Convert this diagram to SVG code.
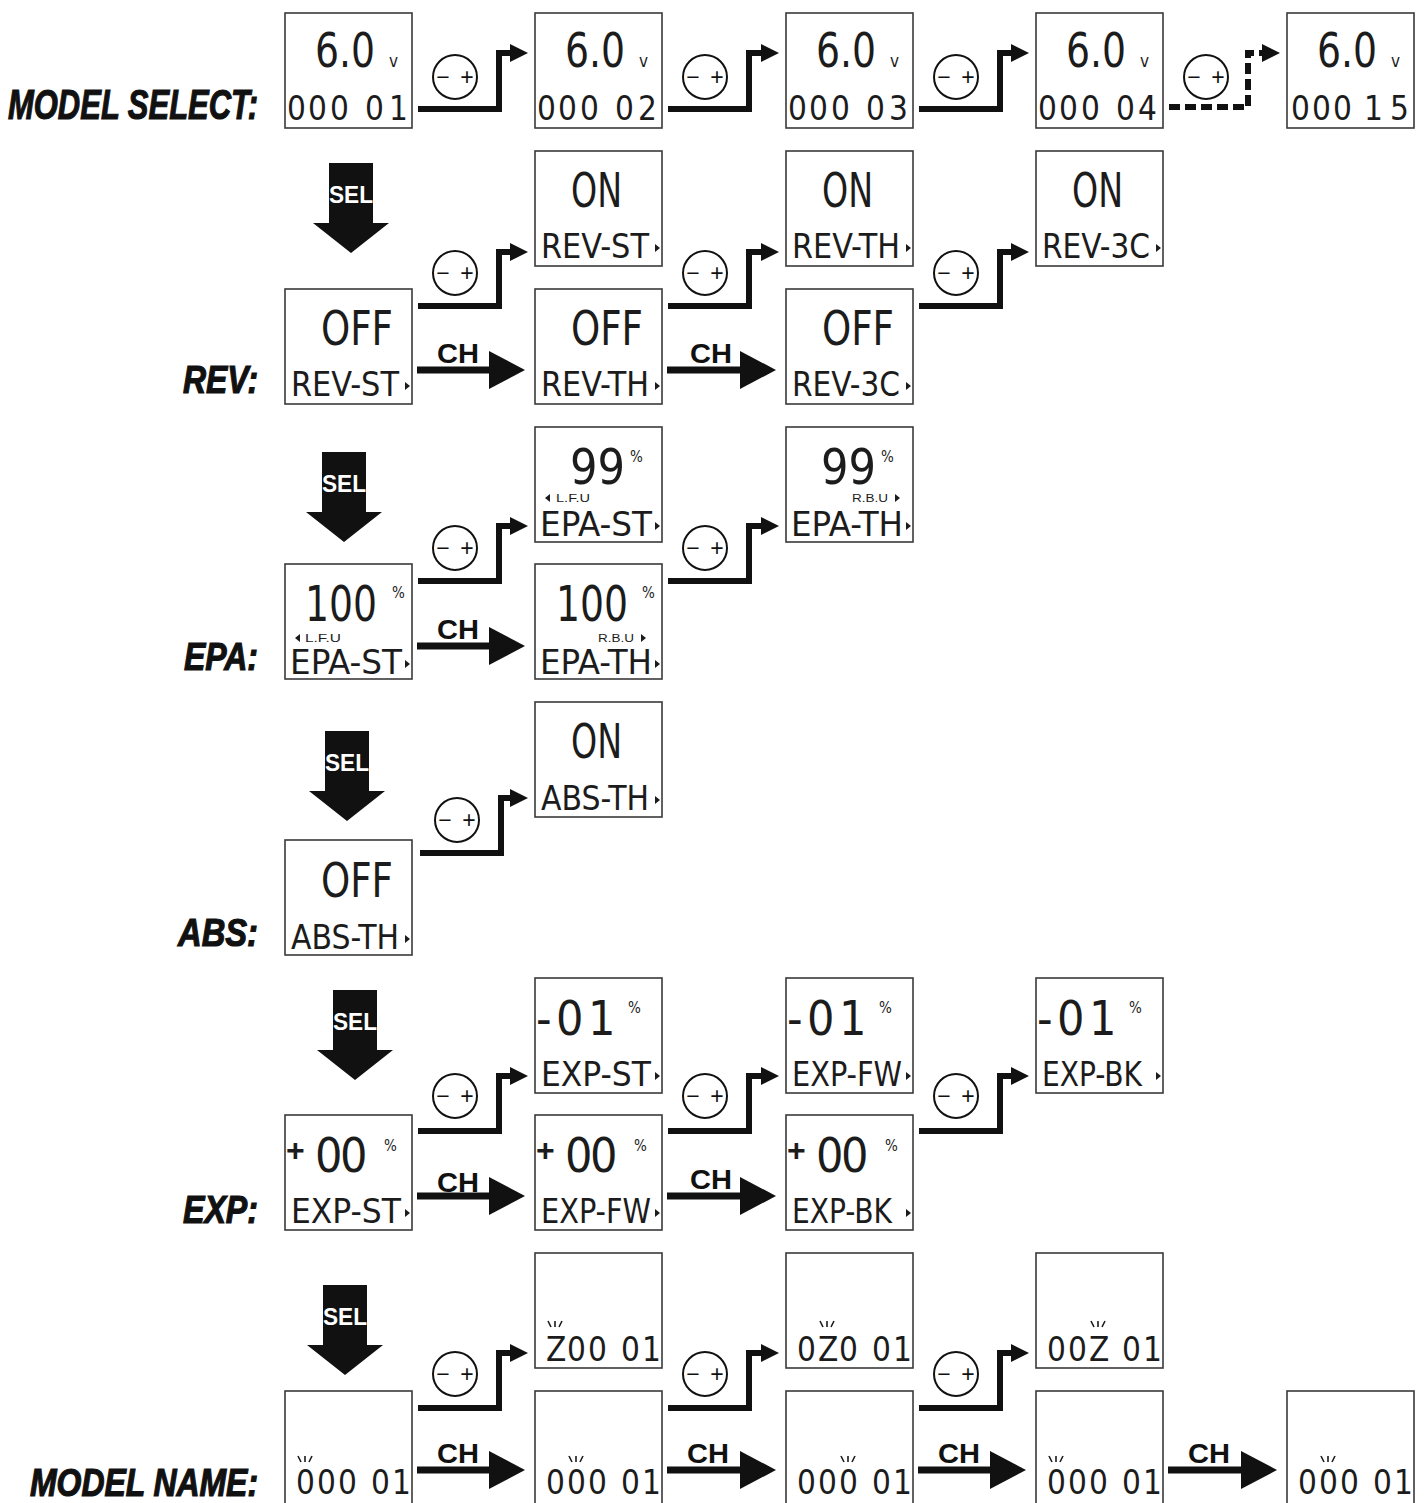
<svg xmlns="http://www.w3.org/2000/svg" width="1424" height="1503" viewBox="0 0 1424 1503">
<defs>
<style>
.box{fill:#fff;stroke:#3a3a3a;stroke-width:1.6}
.seg{font-family:"DejaVu Sans Condensed","DejaVu Sans",sans-serif;fill:#1c1c1c}
.big{font-size:48px}
.num{font-size:50px}
.lbl{font-size:34px}
.dig{font-size:33px}
.pct{font-size:15px}
.vv{font-size:17px}
.tiny{font-family:"Liberation Sans",Arial,sans-serif;font-size:10px;fill:#1c1c1c}
.plus{font-family:"Liberation Sans",Arial,sans-serif;font-weight:bold;font-size:32px;fill:#1c1c1c}
.row{font-family:"Liberation Sans",Arial,sans-serif;font-weight:bold;font-style:italic;fill:#111;stroke:#111;stroke-width:1.2}
.ch{font-family:"Liberation Sans",Arial,sans-serif;font-weight:bold;font-size:28px;fill:#111;text-anchor:middle}
.sel{font-family:"Liberation Sans",Arial,sans-serif;font-weight:bold;font-size:24px;fill:#fff;text-anchor:middle}
.step{fill:none;stroke:#111;stroke-width:6;marker-end:url(#ah)}
.dash{stroke-dasharray:11 5}
.charr{fill:none;stroke:#111;stroke-width:7;marker-end:url(#chh)}
.btn{fill:#fff;stroke:#111;stroke-width:2}
.pm{font-family:"Liberation Sans",Arial,sans-serif;font-size:23px;fill:#111;text-anchor:middle}
.tri{fill:#1c1c1c}
.blink{stroke:#1c1c1c;stroke-width:1.6}
.selarr{fill:#111}
</style>
<marker id="ah" markerUnits="userSpaceOnUse" markerWidth="18" markerHeight="18" viewBox="0 0 18 18" refX="2" refY="9" orient="auto"><path d="M0,0 L18,9 L0,18 z" fill="#111"/></marker>
<marker id="chh" markerUnits="userSpaceOnUse" markerWidth="36" markerHeight="38" viewBox="0 0 36 38" refX="1" refY="19" orient="auto"><path d="M0,0 L36,19 L0,38 z" fill="#111"/></marker>
</defs>
<rect width="1424" height="1503" fill="#fff"/>

<!-- row labels -->
<g id="labels">
<text class="row" x="8" y="119" font-size="43" textLength="250" lengthAdjust="spacingAndGlyphs">MODEL SELECT:</text>
<text class="row" x="183" y="393" font-size="39" textLength="75" lengthAdjust="spacingAndGlyphs">REV:</text>
<text class="row" x="184" y="670" font-size="39" textLength="74" lengthAdjust="spacingAndGlyphs">EPA:</text>
<text class="row" x="178" y="946" font-size="39" textLength="80" lengthAdjust="spacingAndGlyphs">ABS:</text>
<text class="row" x="183" y="1223" font-size="39" textLength="75" lengthAdjust="spacingAndGlyphs">EXP:</text>
<text class="row" x="30" y="1496" font-size="38" textLength="228" lengthAdjust="spacingAndGlyphs">MODEL NAME:</text>
</g>

<!-- SEL arrows -->
<g id="sel-arrows">
<polygon class="selarr" points="329,163 373,163 373,223 389,223 351,253 313,223 329,223"/>
<text class="sel" x="351" y="203" textLength="44" lengthAdjust="spacingAndGlyphs">SEL</text>
<polygon class="selarr" points="322,452 366,452 366,512 382,512 344,542 306,512 322,512"/>
<text class="sel" x="344" y="492" textLength="44" lengthAdjust="spacingAndGlyphs">SEL</text>
<polygon class="selarr" points="325,731 369,731 369,791 385,791 347,821 309,791 325,791"/>
<text class="sel" x="347" y="771" textLength="44" lengthAdjust="spacingAndGlyphs">SEL</text>
<polygon class="selarr" points="333,990 377,990 377,1050 393,1050 355,1080 317,1050 333,1050"/>
<text class="sel" x="355" y="1030" textLength="44" lengthAdjust="spacingAndGlyphs">SEL</text>
<polygon class="selarr" points="323,1285 367,1285 367,1345 383,1345 345,1375 307,1345 323,1345"/>
<text class="sel" x="345" y="1325" textLength="44" lengthAdjust="spacingAndGlyphs">SEL</text>
</g>

<!-- connectors -->
<g id="connectors">
<path class="step" d="M418 109 H499 V53 H512"/>
<path class="step" d="M668 109 H749 V53 H763"/>
<path class="step" d="M919 109 H1000 V53 H1013"/>
<path class="step dash" d="M1169 107 H1248 V53 H1264"/>
<path class="step" d="M418 306 H499 V252 H512"/>
<path class="step" d="M668 306 H749 V252 H763"/>
<path class="step" d="M919 306 H1000 V252 H1013"/>
<path class="charr" d="M417 370 H490"/>
<path class="charr" d="M667 370 H741"/>
<path class="step" d="M418 581 H499 V526 H512"/>
<path class="step" d="M668 581 H749 V526 H763"/>
<path class="charr" d="M417 646 H490"/>
<path class="step" d="M420 853 H501 V798 H512"/>
<path class="step" d="M418 1131 H499 V1076 H512"/>
<path class="step" d="M668 1131 H749 V1076 H763"/>
<path class="step" d="M919 1131 H1000 V1076 H1013"/>
<path class="charr" d="M417 1196 H490"/>
<path class="charr" d="M667 1196 H741"/>
<path class="step" d="M418 1408 H499 V1353 H512"/>
<path class="step" d="M668 1408 H749 V1353 H763"/>
<path class="step" d="M919 1408 H1000 V1353 H1013"/>
<path class="charr" d="M417 1470 H490"/>
<path class="charr" d="M667 1470 H741"/>
<path class="charr" d="M918 1470 H991"/>
<path class="charr" d="M1168 1470 H1242"/>
<text class="ch" x="458" y="363" textLength="42" lengthAdjust="spacingAndGlyphs">CH</text>
<text class="ch" x="711" y="363" textLength="42" lengthAdjust="spacingAndGlyphs">CH</text>
<text class="ch" x="458" y="639" textLength="42" lengthAdjust="spacingAndGlyphs">CH</text>
<text class="ch" x="458" y="1192" textLength="42" lengthAdjust="spacingAndGlyphs">CH</text>
<text class="ch" x="711" y="1189" textLength="42" lengthAdjust="spacingAndGlyphs">CH</text>
<text class="ch" x="458" y="1463" textLength="42" lengthAdjust="spacingAndGlyphs">CH</text>
<text class="ch" x="708" y="1463" textLength="42" lengthAdjust="spacingAndGlyphs">CH</text>
<text class="ch" x="959" y="1463" textLength="42" lengthAdjust="spacingAndGlyphs">CH</text>
<text class="ch" x="1209" y="1463" textLength="42" lengthAdjust="spacingAndGlyphs">CH</text>
<circle class="btn" cx="455" cy="77" r="22"/><text class="pm" x="443 467" y="85">−+</text>
<circle class="btn" cx="705" cy="77" r="22"/><text class="pm" x="693 717" y="85">−+</text>
<circle class="btn" cx="956" cy="77" r="22"/><text class="pm" x="944 968" y="85">−+</text>
<circle class="btn" cx="1206" cy="77" r="22"/><text class="pm" x="1194 1218" y="85">−+</text>
<circle class="btn" cx="455" cy="273" r="22"/><text class="pm" x="443 467" y="281">−+</text>
<circle class="btn" cx="705" cy="273" r="22"/><text class="pm" x="693 717" y="281">−+</text>
<circle class="btn" cx="956" cy="273" r="22"/><text class="pm" x="944 968" y="281">−+</text>
<circle class="btn" cx="455" cy="548" r="22"/><text class="pm" x="443 467" y="556">−+</text>
<circle class="btn" cx="705" cy="548" r="22"/><text class="pm" x="693 717" y="556">−+</text>
<circle class="btn" cx="457" cy="820" r="22"/><text class="pm" x="445 469" y="828">−+</text>
<circle class="btn" cx="455" cy="1096" r="22"/><text class="pm" x="443 467" y="1104">−+</text>
<circle class="btn" cx="705" cy="1096" r="22"/><text class="pm" x="693 717" y="1104">−+</text>
<circle class="btn" cx="956" cy="1096" r="22"/><text class="pm" x="944 968" y="1104">−+</text>
<circle class="btn" cx="455" cy="1374" r="22"/><text class="pm" x="443 467" y="1382">−+</text>
<circle class="btn" cx="705" cy="1374" r="22"/><text class="pm" x="693 717" y="1382">−+</text>
<circle class="btn" cx="956" cy="1374" r="22"/><text class="pm" x="944 968" y="1382">−+</text>
</g>

<!-- MODEL SELECT -->
<g id="ms1"><rect class="box" x="285" y="13" width="127" height="115"/>
<text class="seg big" x="315" y="67" textLength="60" lengthAdjust="spacingAndGlyphs">6.0</text><text class="seg vv" x="389" y="67">v</text>
<text class="seg dig" x="287 308 330 349 365 389" y="120">000 01</text></g>
<g id="ms2"><rect class="box" x="535" y="13" width="127" height="115"/>
<text class="seg big" x="565" y="67" textLength="60" lengthAdjust="spacingAndGlyphs">6.0</text><text class="seg vv" x="639" y="67">v</text>
<text class="seg dig" x="537 558 580 599 615 638" y="120">000 02</text></g>
<g id="ms3"><rect class="box" x="786" y="13" width="127" height="115"/>
<text class="seg big" x="816" y="67" textLength="60" lengthAdjust="spacingAndGlyphs">6.0</text><text class="seg vv" x="890" y="67">v</text>
<text class="seg dig" x="788 809 831 850 866 889" y="120">000 03</text></g>
<g id="ms4"><rect class="box" x="1036" y="13" width="127" height="115"/>
<text class="seg big" x="1066" y="67" textLength="60" lengthAdjust="spacingAndGlyphs">6.0</text><text class="seg vv" x="1140" y="67">v</text>
<text class="seg dig" x="1038 1059 1081 1100 1116 1138" y="120">000 04</text></g>
<g id="ms5"><rect class="box" x="1287" y="13" width="127" height="115"/>
<text class="seg big" x="1317" y="67" textLength="60" lengthAdjust="spacingAndGlyphs">6.0</text><text class="seg vv" x="1391" y="67">v</text>
<text class="seg dig" x="1291 1312 1333 1351 1364 1390" y="120">000 15</text></g>

<!-- REV -->
<g id="rev-on-st"><rect class="box" x="535" y="151" width="127" height="115"/>
<text class="seg big" x="571" y="207" textLength="51" lengthAdjust="spacingAndGlyphs">ON</text>
<text class="seg lbl" x="541" y="258" textLength="108" lengthAdjust="spacingAndGlyphs">REV-ST</text><polygon class="tri" points="655,244 660,248 655,252"/></g>
<g id="rev-on-th"><rect class="box" x="786" y="151" width="127" height="115"/>
<text class="seg big" x="822" y="207" textLength="51" lengthAdjust="spacingAndGlyphs">ON</text>
<text class="seg lbl" x="792" y="258" textLength="108" lengthAdjust="spacingAndGlyphs">REV-TH</text><polygon class="tri" points="906,244 911,248 906,252"/></g>
<g id="rev-on-3c"><rect class="box" x="1036" y="151" width="127" height="115"/>
<text class="seg big" x="1072" y="207" textLength="51" lengthAdjust="spacingAndGlyphs">ON</text>
<text class="seg lbl" x="1042" y="258" textLength="108" lengthAdjust="spacingAndGlyphs">REV-3C</text><polygon class="tri" points="1156,244 1161,248 1156,252"/></g>
<g id="rev-off-st"><rect class="box" x="285" y="289" width="127" height="115"/>
<text class="seg big" x="321" y="345" textLength="72" lengthAdjust="spacingAndGlyphs">OFF</text>
<text class="seg lbl" x="291" y="396" textLength="108" lengthAdjust="spacingAndGlyphs">REV-ST</text><polygon class="tri" points="405,382 410,386 405,390"/></g>
<g id="rev-off-th"><rect class="box" x="535" y="289" width="127" height="115"/>
<text class="seg big" x="571" y="345" textLength="72" lengthAdjust="spacingAndGlyphs">OFF</text>
<text class="seg lbl" x="541" y="396" textLength="108" lengthAdjust="spacingAndGlyphs">REV-TH</text><polygon class="tri" points="655,382 660,386 655,390"/></g>
<g id="rev-off-3c"><rect class="box" x="786" y="289" width="127" height="115"/>
<text class="seg big" x="822" y="345" textLength="72" lengthAdjust="spacingAndGlyphs">OFF</text>
<text class="seg lbl" x="792" y="396" textLength="108" lengthAdjust="spacingAndGlyphs">REV-3C</text><polygon class="tri" points="906,382 911,386 906,390"/></g>

<!-- EPA -->
<g id="epa-99-st"><rect class="box" x="535" y="427" width="127" height="115"/>
<text class="seg num" x="570" y="484" textLength="55" lengthAdjust="spacingAndGlyphs">99</text><text class="seg pct" x="630" y="462">%</text>
<polygon class="tri" points="550,494 545,498 550,502"/><text class="tiny" x="556" y="502" textLength="34" lengthAdjust="spacingAndGlyphs">L.F.U</text>
<text class="seg lbl" x="540" y="536" textLength="112" lengthAdjust="spacingAndGlyphs">EPA-ST</text><polygon class="tri" points="655,522 660,526 655,530"/></g>
<g id="epa-99-th"><rect class="box" x="786" y="427" width="127" height="115"/>
<text class="seg num" x="821" y="484" textLength="55" lengthAdjust="spacingAndGlyphs">99</text><text class="seg pct" x="881" y="462">%</text>
<text class="tiny" x="852" y="502" textLength="36" lengthAdjust="spacingAndGlyphs">R.B.U</text><polygon class="tri" points="895,494 900,498 895,502"/>
<text class="seg lbl" x="791" y="536" textLength="112" lengthAdjust="spacingAndGlyphs">EPA-TH</text><polygon class="tri" points="906,522 911,526 906,530"/></g>
<g id="epa-100-st"><rect class="box" x="285" y="564" width="127" height="115"/>
<text class="seg num" x="305" y="621" textLength="72" lengthAdjust="spacingAndGlyphs">100</text><text class="seg pct" x="392" y="598">%</text>
<polygon class="tri" points="300,634 295,638 300,642"/><text class="tiny" x="305" y="642" textLength="36" lengthAdjust="spacingAndGlyphs">L.F.U</text>
<text class="seg lbl" x="290" y="674" textLength="112" lengthAdjust="spacingAndGlyphs">EPA-ST</text><polygon class="tri" points="405,660 410,664 405,668"/></g>
<g id="epa-100-th"><rect class="box" x="535" y="564" width="127" height="115"/>
<text class="seg num" x="556" y="621" textLength="72" lengthAdjust="spacingAndGlyphs">100</text><text class="seg pct" x="642" y="598">%</text>
<text class="tiny" x="598" y="642" textLength="36" lengthAdjust="spacingAndGlyphs">R.B.U</text><polygon class="tri" points="641,634 646,638 641,642"/>
<text class="seg lbl" x="540" y="674" textLength="112" lengthAdjust="spacingAndGlyphs">EPA-TH</text><polygon class="tri" points="655,660 660,664 655,668"/></g>

<!-- ABS -->
<g id="abs-on"><rect class="box" x="535" y="702" width="127" height="115"/>
<text class="seg big" x="571" y="758" textLength="51" lengthAdjust="spacingAndGlyphs">ON</text>
<text class="seg lbl" x="541" y="810" textLength="108" lengthAdjust="spacingAndGlyphs">ABS-TH</text><polygon class="tri" points="655,796 660,800 655,804"/></g>
<g id="abs-off"><rect class="box" x="285" y="840" width="127" height="115"/>
<text class="seg big" x="321" y="897" textLength="72" lengthAdjust="spacingAndGlyphs">OFF</text>
<text class="seg lbl" x="291" y="949" textLength="108" lengthAdjust="spacingAndGlyphs">ABS-TH</text><polygon class="tri" points="405,935 410,939 405,943"/></g>

<!-- EXP -->
<g id="exp-m-st"><rect class="box" x="535" y="978" width="127" height="115"/>
<text class="seg big" x="536" y="1035">-</text><text class="seg big" x="556 588" y="1035">01</text><text class="seg pct" x="628" y="1013">%</text>
<text class="seg lbl" x="541" y="1086" textLength="110" lengthAdjust="spacingAndGlyphs">EXP-ST</text><polygon class="tri" points="655,1072 660,1076 655,1080"/></g>
<g id="exp-m-fw"><rect class="box" x="786" y="978" width="127" height="115"/>
<text class="seg big" x="787" y="1035">-</text><text class="seg big" x="807 839" y="1035">01</text><text class="seg pct" x="879" y="1013">%</text>
<text class="seg lbl" x="792" y="1086" textLength="110" lengthAdjust="spacingAndGlyphs">EXP-FW</text><polygon class="tri" points="906,1072 911,1076 906,1080"/></g>
<g id="exp-m-bk"><rect class="box" x="1036" y="978" width="127" height="115"/>
<text class="seg big" x="1037" y="1035">-</text><text class="seg big" x="1057 1089" y="1035">01</text><text class="seg pct" x="1129" y="1013">%</text>
<text class="seg lbl" x="1042" y="1086" textLength="100" lengthAdjust="spacingAndGlyphs">EXP-BK</text><polygon class="tri" points="1156,1072 1161,1076 1156,1080"/></g>
<g id="exp-p-st"><rect class="box" x="285" y="1115" width="127" height="115"/>
<text class="plus" x="286" y="1161">+</text><text class="seg big" x="315 340" y="1172">00</text><text class="seg pct" x="384" y="1151">%</text>
<text class="seg lbl" x="291" y="1223" textLength="110" lengthAdjust="spacingAndGlyphs">EXP-ST</text><polygon class="tri" points="405,1209 410,1213 405,1217"/></g>
<g id="exp-p-fw"><rect class="box" x="535" y="1115" width="127" height="115"/>
<text class="plus" x="536" y="1161">+</text><text class="seg big" x="565 590" y="1172">00</text><text class="seg pct" x="634" y="1151">%</text>
<text class="seg lbl" x="541" y="1223" textLength="110" lengthAdjust="spacingAndGlyphs">EXP-FW</text><polygon class="tri" points="655,1209 660,1213 655,1217"/></g>
<g id="exp-p-bk"><rect class="box" x="786" y="1115" width="127" height="115"/>
<text class="plus" x="787" y="1161">+</text><text class="seg big" x="816 841" y="1172">00</text><text class="seg pct" x="885" y="1151">%</text>
<text class="seg lbl" x="792" y="1223" textLength="100" lengthAdjust="spacingAndGlyphs">EXP-BK</text><polygon class="tri" points="906,1209 911,1213 906,1217"/></g>

<!-- MODEL NAME -->
<g id="mn-z1"><rect class="box" x="535" y="1253" width="127" height="115"/>
<text class="seg dig" x="546 567 588 606 621 642" y="1361">Z00 01</text>
<path class="blink" d="M548 1321 L551 1327 M555 1321 V1327 M562 1321 L559 1327"/></g>
<g id="mn-z2"><rect class="box" x="786" y="1253" width="127" height="115"/>
<text class="seg dig" x="797 818 839 857 872 893" y="1361">0Z0 01</text>
<path class="blink" d="M820 1321 L823 1327 M827 1321 V1327 M834 1321 L831 1327"/></g>
<g id="mn-z3"><rect class="box" x="1036" y="1253" width="127" height="115"/>
<text class="seg dig" x="1047 1068 1089 1107 1122 1143" y="1361">00Z 01</text>
<path class="blink" d="M1091 1321 L1094 1327 M1098 1321 V1327 M1105 1321 L1102 1327"/></g>
<g id="mn-1"><rect class="box" x="285" y="1391" width="127" height="116"/>
<text class="seg dig" x="296 317 338 356 371 392" y="1494">000 01</text>
<path class="blink" d="M298 1456 L301 1462 M305 1456 V1462 M312 1456 L309 1462"/></g>
<g id="mn-2"><rect class="box" x="535" y="1391" width="127" height="116"/>
<text class="seg dig" x="546 567 588 606 621 642" y="1494">000 01</text>
<path class="blink" d="M569 1456 L572 1462 M576 1456 V1462 M583 1456 L580 1462"/></g>
<g id="mn-3"><rect class="box" x="786" y="1391" width="127" height="116"/>
<text class="seg dig" x="797 818 839 857 872 893" y="1494">000 01</text>
<path class="blink" d="M841 1456 L844 1462 M848 1456 V1462 M855 1456 L852 1462"/></g>
<g id="mn-4"><rect class="box" x="1036" y="1391" width="127" height="116"/>
<text class="seg dig" x="1047 1068 1089 1107 1122 1143" y="1494">000 01</text>
<path class="blink" d="M1049 1456 L1052 1462 M1056 1456 V1462 M1063 1456 L1060 1462"/></g>
<g id="mn-5"><rect class="box" x="1287" y="1391" width="127" height="116"/>
<text class="seg dig" x="1298 1319 1340 1358 1373 1394" y="1494">000 01</text>
<path class="blink" d="M1321 1456 L1324 1462 M1328 1456 V1462 M1335 1456 L1332 1462"/></g>
</svg>
